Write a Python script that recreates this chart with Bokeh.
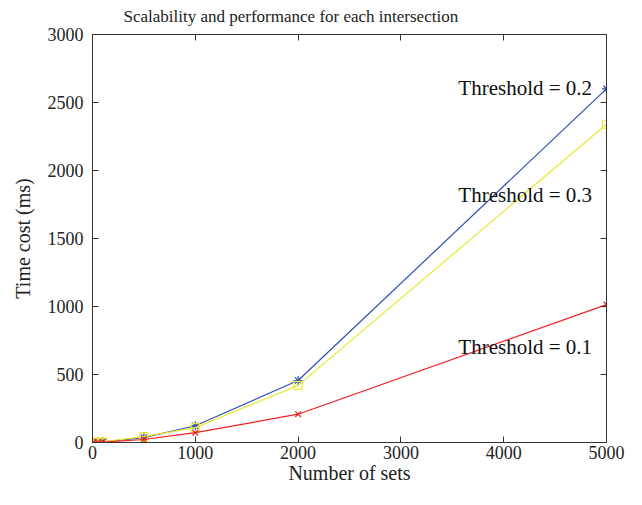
from bokeh.plotting import figure
from bokeh.models import LinearAxis, Range1d, FixedTicker, Label
from bokeh.embed import file_html
from bokeh.resources import INLINE

# Data
num_sets = [10, 50, 100, 500, 1000, 2000, 5000]
thr_02 = [2, 3, 5, 36, 123, 456, 2600]
thr_03 = [2, 3, 4, 43, 109, 420, 2340]
thr_01 = [1, 2, 3, 22, 72, 208, 1014]
x_ticks = [0, 1000, 2000, 3000, 4000, 5000]
y_ticks = [0, 500, 1000, 1500, 2000, 2500, 3000]
labels = ["Threshold = 0.2", "Threshold = 0.3", "Threshold = 0.1"]
label_x = [4860, 4860, 4860]
label_y = [2609, 1819, 703]

FONT = "Liberation Serif"
BLUE = "#2d4fb4"
YELLOW = "#e8e830"
RED = "#f02020"
AX = "#333333"
TXT = "#222222"

p = figure(width=626, height=489, output_backend="svg", toolbar_location=None,
           x_range=Range1d(0, 5000), y_range=Range1d(0, 3000),
           title="Scalability and performance for each intersection",
           min_border_left=92, min_border_right=20, min_border_top=33,
           min_border_bottom=47)
p.title.text_font = FONT
p.title.text_font_size = "17px"
p.title.text_font_style = "normal"
p.title.align = "left"
p.title.vertical_align = "top"
p.title.offset = 31
p.title.text_color = TXT
p.title.standoff = 13

p.grid.visible = False
p.outline_line_color = AX
p.outline_line_width = 1

for ax in (p.xaxis[0], p.yaxis[0]):
    ax.axis_line_color = AX
    ax.major_tick_line_color = AX
    ax.major_tick_in = 6
    ax.major_tick_out = 0
    ax.minor_tick_line_color = None
    ax.major_label_text_font = FONT
    ax.major_label_text_font_size = "18px"
    ax.major_label_text_color = TXT
    ax.axis_label_text_font = FONT
    ax.axis_label_text_font_size = "20px"
    ax.axis_label_text_font_style = "normal"
    ax.axis_label_text_color = TXT

p.xaxis[0].ticker = FixedTicker(ticks=x_ticks)
p.yaxis[0].ticker = FixedTicker(ticks=y_ticks)
p.xaxis[0].axis_label = "Number of sets"
p.yaxis[0].axis_label = "Time cost (ms)"
p.xaxis[0].major_label_standoff = 3
p.yaxis[0].major_label_standoff = 9
p.xaxis[0].axis_label_standoff = 0
p.yaxis[0].axis_label_standoff = 11

top = LinearAxis(ticker=FixedTicker(ticks=x_ticks),
                 major_label_overrides={t: "" for t in x_ticks})
right = LinearAxis(ticker=FixedTicker(ticks=y_ticks),
                   major_label_overrides={t: "" for t in y_ticks})
for ax in (top, right):
    ax.axis_line_color = AX
    ax.major_tick_line_color = AX
    ax.major_tick_in = 6
    ax.major_tick_out = 0
    ax.minor_tick_line_color = None
    ax.major_label_standoff = 0
p.add_layout(top, "above")
p.add_layout(right, "right")

p.line(num_sets, thr_02, line_color=BLUE, line_width=1.2)
p.scatter(num_sets, thr_02, marker="asterisk", size=9, line_color=BLUE, line_width=1.2)
p.line(num_sets, thr_03, line_color=YELLOW, line_width=1.2)
p.scatter(num_sets, thr_03, marker="square", size=8, line_color=YELLOW, fill_color=None, line_width=1.2)
p.line(num_sets, thr_01, line_color=RED, line_width=1.2)
p.scatter(num_sets, thr_01, marker="x", size=8, line_color=RED, line_width=1.2)

for t, lx, ly in zip(labels, label_x, label_y):
    p.add_layout(Label(x=lx, y=ly, text=t, text_font=FONT, text_font_size="21px",
                       text_color="#111111", text_baseline="middle", text_align="right"))

open("out.html", "w").write(file_html(p, INLINE))
